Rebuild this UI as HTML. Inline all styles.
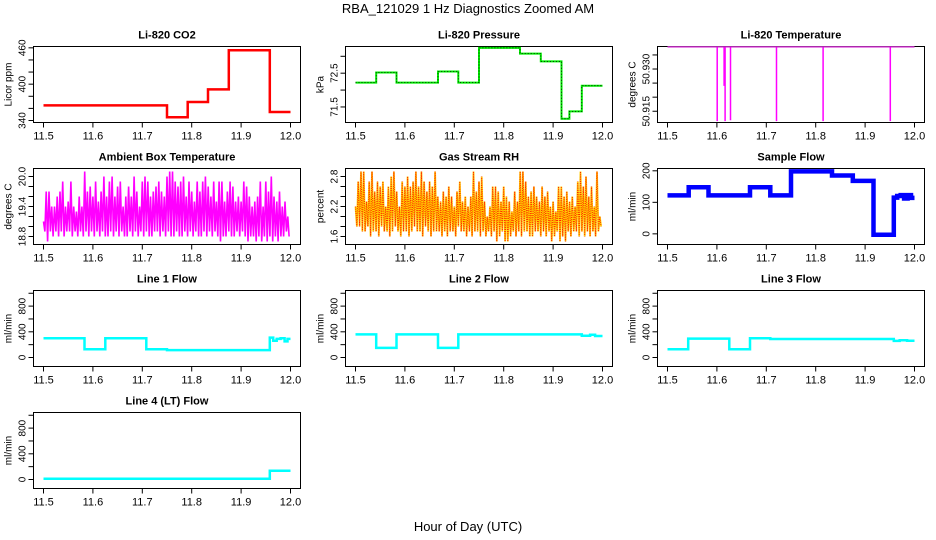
<!DOCTYPE html>
<html><head><meta charset="utf-8"><style>
html,body{margin:0;padding:0;background:#fff;}
svg{display:block;font-family:"Liberation Sans",sans-serif;}
</style></head><body>
<svg id="fig" width="936" height="540" viewBox="0 0 936 540" xmlns="http://www.w3.org/2000/svg">
<text x="468" y="13" text-anchor="middle" font-size="13">RBA_121029  1 Hz Diagnostics Zoomed AM</text>
<text x="468" y="531" text-anchor="middle" font-size="13">Hour of Day (UTC)</text>
</svg>
<script>
const xTicks = [11.5, 11.6, 11.7, 11.8, 11.9, 12.0];
const xTickLabels = ["11.5", "11.6", "11.7", "11.8", "11.9", "12.0"];

const co2Times = [11.5, 11.75, 11.792, 11.833, 11.875, 11.958];
const co2Vals = [365, 345.5, 370.6, 391.4, 456, 354];

const presTimes = [11.5, 11.542, 11.583, 11.667, 11.708, 11.75, 11.833, 11.875, 11.917, 11.933, 11.958];
const presVals = [72.22, 72.52, 72.22, 72.55, 72.22, 73.25, 73.08, 72.85, 71.15, 71.37, 72.13];

const tempBase = 50.9379;
const tempSpikeTimes = [11.6006, 11.6145, 11.6165, 11.6275, 11.7207, 11.815, 11.951];
const tempSpikeMins = [50.9115, 50.924, 50.9115, 50.9118, 50.9115, 50.9115, 50.9115];

const ambHi = [19.1,19.7,19.7,19.4,19.4,19.6,19.7,19.9,19.4,19.5,19.9,19.4,19.3,19.6,19.4,20.1,19.7,19.8,19.6,19.9,19.5,19.7,20.0,19.6,19.9,20.0,19.6,19.8,19.9,19.4,19.6,19.8,19.6,20.0,19.7,19.4,19.9,20.0,19.9,19.6,19.7,19.8,19.9,19.7,19.6,20.0,20.1,20.1,19.9,19.8,19.9,20.0,19.6,19.9,19.7,19.5,19.9,19.7,19.9,20.0,19.8,19.6,19.9,19.5,19.9,19.9,19.5,19.7,19.9,19.8,19.5,19.6,19.5,19.9,19.8,19.6,19.4,19.5,19.6,19.9,19.4,19.9,19.7,20.0,19.6,19.5,19.7,19.4,19.5,19.2];
const ambLo = [18.9,18.7,18.9,18.8,18.9,18.8,18.9,18.8,18.9,18.9,18.8,18.9,18.8,18.9,18.8,18.9,18.8,18.9,18.8,18.9,18.8,18.9,18.8,18.8,18.9,18.8,18.9,18.8,18.9,18.8,18.8,18.9,18.8,18.9,18.8,18.9,18.8,18.9,18.8,18.8,18.9,18.9,18.8,18.9,18.8,18.9,18.8,18.8,18.9,18.8,18.8,18.9,18.8,18.9,18.8,18.9,18.8,18.8,18.9,18.8,18.9,18.8,18.9,18.8,18.7,18.8,18.8,18.9,18.8,18.8,18.9,18.8,18.9,18.8,18.7,18.8,18.8,18.7,18.8,18.7,18.8,18.7,18.8,18.7,18.8,18.7,18.8,18.8,18.9,18.8];

const rhHi = [2.2,2.7,2.9,2.9,2.3,2.7,2.9,2.5,2.7,2.6,2.7,2.2,2.6,2.8,2.9,2.5,2.2,2.7,2.6,2.8,2.6,2.7,2.9,2.6,2.9,2.7,2.5,2.7,2.6,2.9,2.4,2.3,2.5,2.4,2.6,2.4,2.2,2.5,2.7,2.3,2.4,2.2,2.4,2.9,2.5,2.7,2.8,2.3,2.0,2.2,2.6,2.6,2.5,2.3,2.6,2.4,2.3,2.1,2.5,2.3,2.9,2.9,2.7,2.4,2.5,2.6,2.4,2.3,2.6,2.4,2.5,2.2,2.3,2.1,2.6,2.6,2.4,2.5,2.3,2.4,2.2,2.7,2.9,2.6,2.8,2.4,2.6,2.2,2.9,2.0];
const rhLo = [1.8,1.8,1.7,1.7,1.8,1.6,1.7,1.7,1.6,1.8,1.7,1.7,1.6,1.7,1.8,1.7,1.6,1.7,1.7,1.6,1.7,1.8,1.7,1.7,1.6,1.8,1.7,1.6,1.7,1.7,1.7,1.6,1.7,1.6,1.7,1.7,1.6,1.8,1.7,1.7,1.6,1.7,1.6,1.7,1.7,1.6,1.7,1.6,1.7,1.6,1.7,1.5,1.6,1.7,1.5,1.5,1.6,1.7,1.6,1.7,1.6,1.7,1.7,1.6,1.6,1.7,1.7,1.6,1.7,1.6,1.7,1.5,1.6,1.7,1.5,1.6,1.5,1.7,1.6,1.7,1.7,1.6,1.7,1.6,1.7,1.6,1.7,1.6,1.7,1.8];

const sampTimes = [11.5, 11.543, 11.583, 11.667, 11.708, 11.75, 11.833, 11.875, 11.917, 11.958, 11.965, 11.972, 11.979, 11.986, 11.993];
const sampVals = [122, 148, 122, 148, 122, 198, 185, 168, -3, 115, 120, 123, 112, 123, 114];

const l1Times = [11.5, 11.583, 11.625, 11.708, 11.75, 11.958, 11.965, 11.972, 11.98, 11.988, 11.994];
const l1Vals = [300, 130, 300, 130, 115, 310, 260, 290, 300, 250, 290];
const l2Times = [11.5, 11.542, 11.583, 11.667, 11.708, 11.958, 11.975, 11.985];
const l2Vals = [360, 150, 360, 150, 360, 340, 355, 335];
const l3Times = [11.5, 11.542, 11.625, 11.667, 11.708, 11.958, 11.97, 11.985];
const l3Vals = [130, 295, 130, 300, 288, 258, 270, 262];
const l4Times = [11.5, 11.958];
const l4Vals = [12, 135];

const NS = "http://www.w3.org/2000/svg";
const svg = document.getElementById("fig");
function mk(tag, attrs, parent) {
  const e = document.createElementNS(NS, tag);
  for (const k in attrs) e.setAttribute(k, attrs[k]);
  (parent || svg).appendChild(e);
  return e;
}

function makePanel(col, row, title, ylab, dom, yTicks, yLabVals, yLabTxt, key) {
  const L = 33.5 + 312 * col, W = 267, T = 46.5 + 122 * row, H = 76;
  const g = mk("g", {});
  
  
  const xs = t => L + 10 + (t - 11.5) / 0.5 * 247;
  const ys = v => T + H - (v - dom[0]) / (dom[1] - dom[0]) * H;
  const box = mk("rect", {x: L, y: T, width: W, height: H, fill: "none", stroke: "#000", "stroke-width": 1}, g);
  
  
  const tt = mk("text", {x: L + W / 2, y: T - 8, "text-anchor": "middle", "font-size": 11, "font-weight": "bold"}, g);
  tt.textContent = title;
  
  
  const xa = mk("g", {}, g);
  
  
  mk("line", {x1: xs(xTicks[0]), x2: xs(xTicks[xTicks.length - 1]), y1: T + H, y2: T + H, stroke: "#000"}, xa);
  xTicks.forEach((t, i) => {
    mk("line", {x1: xs(t), x2: xs(t), y1: T + H, y2: T + H + 5, stroke: "#000"}, xa);
    const lb = mk("text", {x: xs(t), y: T + H + 17, "text-anchor": "middle", "font-size": 11}, xa);
    lb.textContent = xTickLabels[i];
  });
  const ya = mk("g", {}, g);
  
  
  mk("line", {x1: L, x2: L, y1: ys(yTicks[0]), y2: ys(yTicks[yTicks.length - 1]), stroke: "#000"}, ya);
  yTicks.forEach(v => mk("line", {x1: L - 5, x2: L, y1: ys(v), y2: ys(v), stroke: "#000"}, ya));
  yLabVals.forEach((v, i) => {
    const lb = mk("text", {x: 0, y: 0, "text-anchor": "middle", "font-size": 10, transform: `translate(${L - 8},${ys(v)}) rotate(-90)`}, ya);
    lb.textContent = yLabTxt[i];
  });
  const yt = mk("text", {x: 0, y: 0, "text-anchor": "middle", "font-size": 10, transform: `translate(${L - 22},${T + H / 2}) rotate(-90)`}, g);
  yt.textContent = ylab;
  
  
  return {g, xs, ys};
}

function stepPath(p, times, vals) {
  let d = "";
  times.forEach((t, i) => {
    const x0 = p.xs(t), x1 = p.xs(i + 1 < times.length ? times[i + 1] : 12.0), y = p.ys(vals[i]);
    d += (i === 0 ? "M" : "L") + x0.toFixed(1) + "," + y.toFixed(1) + "L" + x1.toFixed(1) + "," + y.toFixed(1);
  });
  return d;
}
function zigPath(p, hi, lo) {
  const n = hi.length;
  let d = "";
  for (let i = 0; i < n; i++) {
    const t0 = 11.5 + 0.5 * i / n, t1 = 11.5 + 0.5 * (i + 0.5) / n;
    d += (i === 0 ? "M" : "L") + p.xs(t0).toFixed(1) + "," + p.ys(hi[i]).toFixed(1) + "L" + p.xs(t1).toFixed(1) + "," + p.ys(lo[i]).toFixed(1);
  }
  return d;
}
function addSeries(p, d, attrs, name) {
  const e = mk("path", Object.assign({d: d, fill: "none"}, attrs), p.g);
  
  
  return e;
}

// CO2
let p = makePanel(0, 0, "Li-820 CO2", "Licor ppm", [336.7, 462.2], [340, 360, 380, 400, 420, 440, 460], [340, 400, 460], ["340", "400", "460"], "co2");
addSeries(p, stepPath(p, co2Times, co2Vals), {stroke: "#ff0000", "stroke-width": 2.5}, "co2-line");

// Pressure
p = makePanel(1, 0, "Li-820 Pressure", "kPa", [71.04, 73.29], [71.5, 72.0, 72.5, 73.0], [71.5, 72.5], ["71.5", "72.5"], "pressure");
addSeries(p, stepPath(p, presTimes, presVals), {stroke: "#00ee00", "stroke-width": 2}, "pressure-line");
addSeries(p, stepPath(p, presTimes, presVals), {stroke: "#000", "stroke-width": 0.8, "stroke-dasharray": "1 2"}, "pressure-dots");

// Temperature
p = makePanel(2, 0, "Li-820 Temperature", "degrees C", [50.911, 50.938], [50.915, 50.920, 50.925, 50.930, 50.935], [50.915, 50.930], ["50.915", "50.930"], "li820-temp");
let td = "M" + p.xs(11.5) + "," + p.ys(tempBase) + "L" + p.xs(12.0) + "," + p.ys(tempBase);
tempSpikeTimes.forEach((t, i) => { td += "M" + p.xs(t).toFixed(1) + "," + p.ys(tempBase).toFixed(1) + "L" + p.xs(t).toFixed(1) + "," + p.ys(tempSpikeMins[i]).toFixed(1); });
addSeries(p, td, {stroke: "#ff00ff", "stroke-width": 1.5}, "li820-temp-line");
addSeries(p, "M" + p.xs(11.5) + "," + p.ys(tempBase) + "L" + p.xs(12.0) + "," + p.ys(tempBase), {stroke: "#555", "stroke-width": 0.6}, "li820-temp-baseline");

// Ambient
p = makePanel(0, 1, "Ambient Box Temperature", "degrees C", [18.64, 20.16], [18.8, 19.0, 19.2, 19.4, 19.6, 19.8, 20.0], [18.8, 19.4, 20.0], ["18.8", "19.4", "20.0"], "ambient");
addSeries(p, zigPath(p, ambHi, ambLo), {stroke: "#ff00ff", "stroke-width": 1.6}, "ambient-line");

// RH
p = makePanel(1, 1, "Gas Stream RH", "percent", [1.44, 2.96], [1.6, 1.8, 2.0, 2.2, 2.4, 2.6, 2.8], [1.6, 2.2, 2.8], ["1.6", "2.2", "2.8"], "rh");
addSeries(p, zigPath(p, rhHi, rhLo), {stroke: "#ffd000", "stroke-width": 1.8}, "rh-line");
addSeries(p, zigPath(p, rhHi, rhLo), {stroke: "#ff2000", "stroke-width": 1, "stroke-dasharray": "1 1.2"}, "rh-dots");

// Sample flow
p = makePanel(2, 1, "Sample Flow", "ml/min", [-33.8, 207.3], [0, 100, 200], [0, 100, 200], ["0", "100", "200"], "sample-flow");
addSeries(p, stepPath(p, sampTimes, sampVals), {stroke: "#0000ff", "stroke-width": 4.5}, "sample-flow-line");

const fTicks = [0, 200, 400, 600, 800, 1000];
p = makePanel(0, 2, "Line 1 Flow", "ml/min", [-140, 1043], fTicks, [0, 400, 800], ["0", "400", "800"], "line1");
addSeries(p, stepPath(p, l1Times, l1Vals), {stroke: "#00ffff", "stroke-width": 2.5}, "line1-flow");
p = makePanel(1, 2, "Line 2 Flow", "ml/min", [-140, 1043], fTicks, [0, 400, 800], ["0", "400", "800"], "line2");
addSeries(p, stepPath(p, l2Times, l2Vals), {stroke: "#00ffff", "stroke-width": 2.5}, "line2-flow");
p = makePanel(2, 2, "Line 3 Flow", "ml/min", [-140, 1043], fTicks, [0, 400, 800], ["0", "400", "800"], "line3");
addSeries(p, stepPath(p, l3Times, l3Vals), {stroke: "#00ffff", "stroke-width": 2.5}, "line3-flow");
p = makePanel(0, 3, "Line 4 (LT) Flow", "ml/min", [-140, 1043], fTicks, [0, 400, 800], ["0", "400", "800"], "line4");
addSeries(p, stepPath(p, l4Times, l4Vals), {stroke: "#00ffff", "stroke-width": 2.5}, "line4-flow");
</script>
</body></html>
